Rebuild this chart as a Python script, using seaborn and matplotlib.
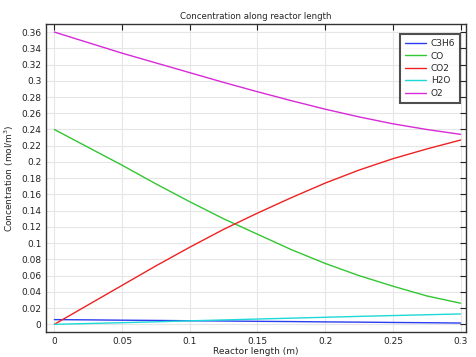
import numpy as np
import pandas as pd
import matplotlib
matplotlib.use("Agg")
import matplotlib.pyplot as plt
import seaborn as sns

length = [0.0, 0.025, 0.05, 0.075, 0.10, 0.125, 0.15, 0.175, 0.20, 0.225, 0.25, 0.275, 0.30]
c3h6 = [0.0058, 0.0055, 0.0051, 0.0048, 0.0044, 0.0041, 0.0037, 0.0034, 0.0030, 0.0027, 0.0023, 0.0020, 0.0016]
co = [0.240, 0.218, 0.196, 0.173, 0.151, 0.130, 0.111, 0.092, 0.075, 0.060, 0.047, 0.035, 0.026]
co2 = [0.0, 0.024, 0.048, 0.072, 0.095, 0.117, 0.137, 0.156, 0.174, 0.190, 0.204, 0.216, 0.227]
h2o = [0.0, 0.0010, 0.0020, 0.0031, 0.0043, 0.0054, 0.0065, 0.0076, 0.0087, 0.0098, 0.0108, 0.0118, 0.0128]
o2 = [0.360, 0.347, 0.334, 0.322, 0.310, 0.298, 0.2865, 0.2755, 0.265, 0.2555, 0.247, 0.240, 0.234]

species = ["C3H6", "CO", "CO2", "H2O", "O2"]
series = [c3h6, co, co2, h2o, o2]
colors = ["#2a3cf0", "#33c633", "#ee2222", "#1fd8d8", "#d82ad8"]

df = pd.concat(
    [pd.DataFrame({"x": length, "y": s, "species": n}) for n, s in zip(species, series)],
    ignore_index=True,
)

sns.set_style("white")
plt.rcParams["font.family"] = ["DejaVu Sans"]

fig = plt.figure(figsize=(4.76, 3.57), dpi=100)
ax = fig.add_axes([0.096, 0.069, 0.883, 0.863])

sns.lineplot(data=df, x="x", y="y", hue="species", palette=dict(zip(species, colors)),
             linewidth=1.0, ax=ax, legend=True)

ax.set_xlim(-0.0064, 0.304)
ax.set_ylim(-0.0099, 0.3696)
ax.set_xticks([0, 0.05, 0.1, 0.15, 0.2, 0.25, 0.3])
ax.set_xticklabels(["0", "0.05", "0.1", "0.15", "0.2", "0.25", "0.3"])
yt = np.round(np.arange(0, 0.361, 0.02), 2)
ax.set_yticks(yt)
ax.set_yticklabels([("%g" % v) for v in yt])
ax.grid(True, color="#e6e6e6", linewidth=0.8)
ax.set_axisbelow(True)
ax.tick_params(direction="in", length=4, width=0.8, labelsize=6.5, colors="#222222",
               top=True, right=True, pad=3)
for sp in ax.spines.values():
    sp.set_color("#333333")
    sp.set_linewidth(1.0)

ax.set_title("Concentration along reactor length", fontsize=6.2, pad=4)
ax.set_xlabel("Reactor length (m)", fontsize=6.5, labelpad=1)
ax.set_ylabel("Concentration (mol/m$^3$)", fontsize=6.5, labelpad=4)

leg = ax.legend(loc="upper right", bbox_to_anchor=(0.986, 0.968), borderaxespad=0,
                fontsize=6.5, frameon=True, fancybox=False, shadow=False, edgecolor="#222222",
                handlelength=2.3, handletextpad=0.5, borderpad=0.55, labelspacing=0.38)
leg.get_frame().set_linewidth(1.5)
for line in leg.get_lines():
    line.set_linewidth(1.0)

fig.savefig("out.png", dpi=100)
